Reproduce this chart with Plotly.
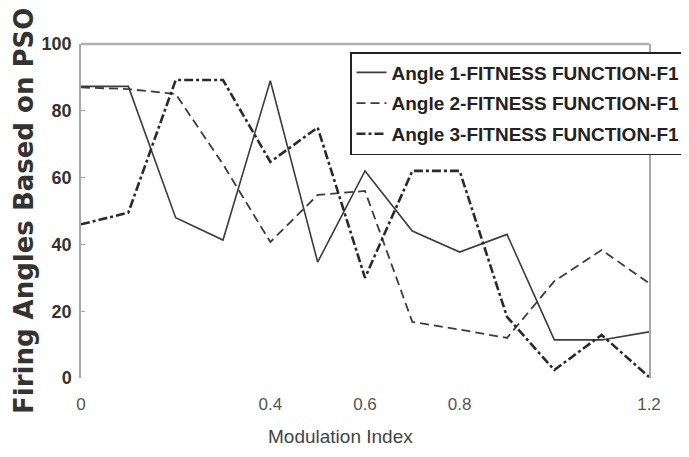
import plotly.graph_objects as go

modulation_index = [0.0, 0.1, 0.2, 0.3, 0.4, 0.5, 0.6, 0.7, 0.8, 0.9, 1.0, 1.1, 1.2]
angle1 = [87.3, 87.3, 48, 41.3, 89, 34.7, 62, 44, 37.7, 43, 11.4, 11.4, 13.8]
angle2 = [87, 86.5, 85, 64, 40.7, 54.8, 56, 16.8, 14.5, 12, 29, 38.3, 28.4]
angle3 = [46, 49.5, 89.2, 89.2, 64.7, 75, 30, 62, 62, 18.3, 2.4, 12.9, 0.3]

series_names = ["Angle 1-FITNESS FUNCTION-F1",
                "Angle 2-FITNESS FUNCTION-F1",
                "Angle 3-FITNESS FUNCTION-F1"]
x_tick_vals = [0, 0.4, 0.6, 0.8, 1.2]
x_tick_text = ["0", "0.4", "0.6", "0.8", "1.2"]
y_tick_vals = [0, 20, 40, 60, 80, 100]

fig = go.Figure()
styles = [
    dict(color="#3c3c3c", width=1.6, dash="solid"),
    dict(color="#3c3c3c", width=1.8, dash="9px,5px"),
    dict(color="#2a2a2a", width=2.6, dash="dashdot"),
]
for i, (name, ys) in enumerate(zip(series_names, [angle1, angle2, angle3])):
    fig.add_trace(go.Scatter(x=modulation_index, y=ys, mode="lines", name=name,
                             line=styles[i], legendgroup=f"g{i}"))

# page body has an 8px margin; figure sized to fit the window
OFF = 8
W, H = 689 - OFF, 457 - OFF
L, T = 81 - OFF, 44 - OFF
R = W - (649 - OFF)
B = H - (378 - OFF)
pw = W - L - R
ph = H - T - B


def px(xp):
    return (xp - OFF - L) / pw


def py(yp):
    return (H - B - (yp - OFF)) / ph


fig.update_layout(
    width=W, height=H,
    margin=dict(l=L, r=R, t=T, b=B, autoexpand=False),
    paper_bgcolor="white", plot_bgcolor="white",
    showlegend=True,
    legend=dict(
        x=px(350), y=py(52), xanchor="left", yanchor="top",
        bgcolor="white", bordercolor="#222", borderwidth=1.5,
        font=dict(family="Liberation Sans, Arial", size=19, color="#222", weight="bold"),
        tracegroupgap=3, traceorder="grouped",
    ),
    xaxis=dict(
        range=[0, 1.2], tickvals=x_tick_vals, ticktext=x_tick_text,
        showgrid=False, zeroline=False, showline=False, ticks="",
        ticklabelstandoff=14,
        tickfont=dict(family="Liberation Sans, Arial", size=17, color="#555"),
    ),
    yaxis=dict(
        range=[0, 100], tickvals=y_tick_vals,
        showgrid=False, zeroline=False, showline=True, linecolor="#a8a8a8", linewidth=1.5,
        mirror=True, ticks="inside", ticklen=4, tickcolor="#a8a8a8",
        ticklabelstandoff=4,
        tickfont=dict(family="Liberation Sans, Arial", size=18, color="#333", weight="bold"),
    ),
    shapes=[dict(type="line", xref="paper", yref="paper", x0=0, x1=1, y0=1, y1=1,
                 line=dict(color="#b0b0b0", width=2.5))],
    annotations=[
        dict(text="Modulation Index", xref="paper", yref="paper",
             x=px(340), y=py(437),
             showarrow=False, xanchor="center", yanchor="middle",
             font=dict(family="Liberation Sans, Arial", size=19, color="#444")),
        dict(text="Firing Angles Based on PSO", xref="paper", yref="paper",
             x=px(24), y=py(211), textangle=-90,
             showarrow=False, xanchor="center", yanchor="middle",
             font=dict(family="DejaVu Sans", size=26, color="#333", weight="bold")),
    ],
)

fig.write_html("out.html")
